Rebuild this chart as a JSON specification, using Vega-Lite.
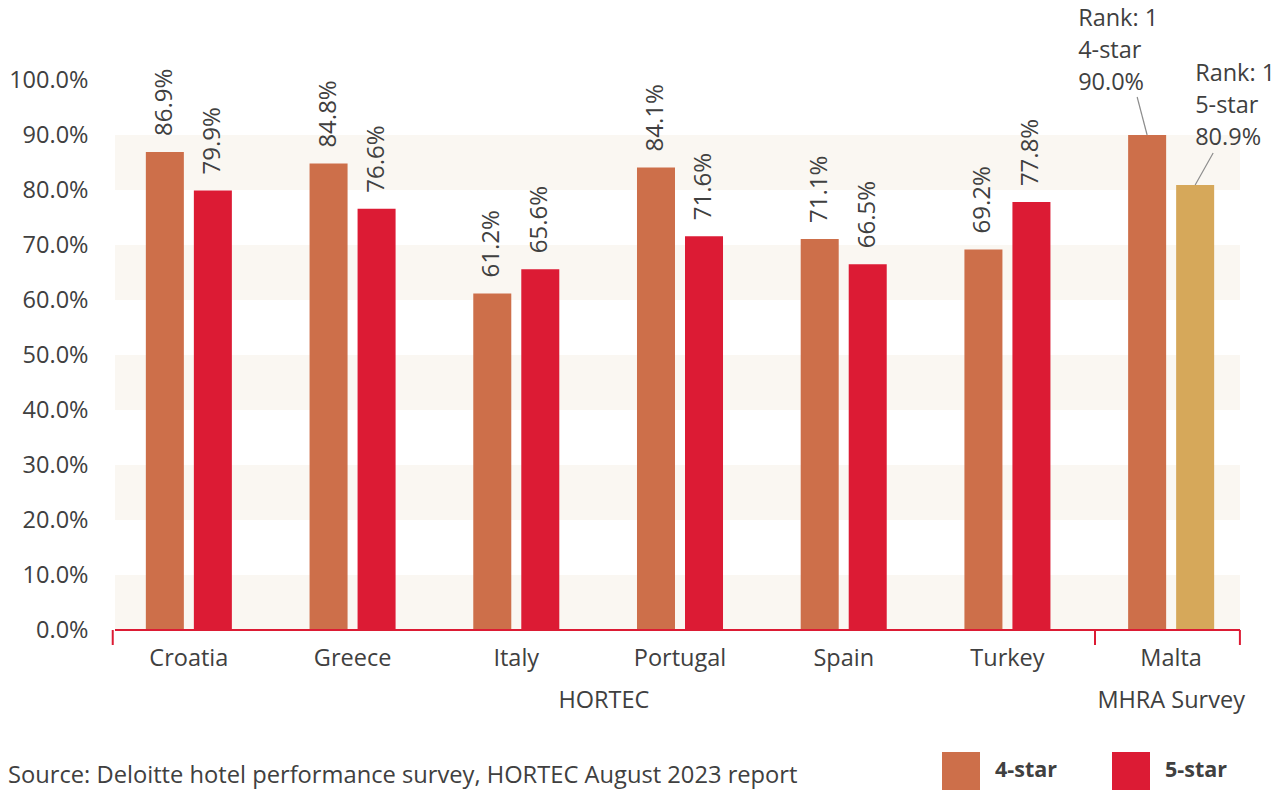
{
  "$schema": "https://vega.github.io/schema/vega-lite/v6.json",
  "width": 1125,
  "height": 550,
  "autosize": {"type": "none"},
  "padding": {"left": 115, "top": 80, "right": 42, "bottom": 161},
  "background": "white",
  "config": {
    "font": "Open Sans",
    "view": {"stroke": null}
  },
  "title": {
    "text": "Source: Deloitte hotel performance survey, HORTEC August 2023 report",
    "orient": "bottom",
    "anchor": "start",
    "frame": "group",
    "dx": -107,
    "offset": -26,
    "fontSize": 23.7,
    "fontWeight": "normal",
    "color": "#404040"
  },
  "datasets": {
    "bars": [
      {"country": "Croatia", "star": "4-star", "series": "4-star", "value": 0.869, "rank": null},
      {"country": "Croatia", "star": "5-star", "series": "5-star", "value": 0.799, "rank": null},
      {"country": "Greece", "star": "4-star", "series": "4-star", "value": 0.848, "rank": null},
      {"country": "Greece", "star": "5-star", "series": "5-star", "value": 0.766, "rank": null},
      {"country": "Italy", "star": "4-star", "series": "4-star", "value": 0.612, "rank": null},
      {"country": "Italy", "star": "5-star", "series": "5-star", "value": 0.656, "rank": null},
      {"country": "Portugal", "star": "4-star", "series": "4-star", "value": 0.841, "rank": null},
      {"country": "Portugal", "star": "5-star", "series": "5-star", "value": 0.716, "rank": null},
      {"country": "Spain", "star": "4-star", "series": "4-star", "value": 0.711, "rank": null},
      {"country": "Spain", "star": "5-star", "series": "5-star", "value": 0.665, "rank": null},
      {"country": "Turkey", "star": "4-star", "series": "4-star", "value": 0.692, "rank": null},
      {"country": "Turkey", "star": "5-star", "series": "5-star", "value": 0.778, "rank": null},
      {"country": "Malta", "star": "4-star", "series": "4-star", "value": 0.9, "rank": 1},
      {"country": "Malta", "star": "5-star", "series": "5-star MHRA", "value": 0.809, "rank": 1}
    ],
    "bands": [
      {"from": 0.0, "to": 0.1},
      {"from": 0.2, "to": 0.3},
      {"from": 0.4, "to": 0.5},
      {"from": 0.6, "to": 0.7},
      {"from": 0.8, "to": 0.9}
    ],
    "groups": [
      {"group": "HORTEC", "first": "Croatia", "last": "Turkey", "anchor": "Portugal"},
      {"group": "MHRA Survey", "first": "Malta", "last": "Malta", "anchor": "Malta"}
    ]
  },
  "layer": [
    {
      "data": {"name": "bands"},
      "mark": {"type": "rect", "color": "#faf7f2"},
      "encoding": {
        "y": {"field": "from", "type": "quantitative", "title": null, "scale": {"domain": [0, 1], "nice": false}},
        "y2": {"field": "to"}
      }
    },
    {
      "data": {"name": "bars"},
      "mark": {"type": "bar"},
      "encoding": {
        "x": {
          "field": "country", "type": "nominal", "sort": null, "title": null,
          "scale": {"domain": ["Croatia", "Greece", "Italy", "Portugal", "Spain", "Turkey", "Malta"], "range": [-8, 1138], "paddingInner": 0, "paddingOuter": 0},
          "axis": {"title": null, "domain": false, "ticks": false, "tickSize": 0, "grid": false, "labelPadding": 16, "labelFontSize": 23.5, "labelColor": "#404040", "labelAngle": 0}
        },
        "xOffset": {
          "field": "star", "type": "nominal",
          "scale": {"domain": ["4-star", "5-star"], "paddingInner": 0.2083, "paddingOuter": 0.809}
        },
        "y": {
          "field": "value", "type": "quantitative", "title": null,
          "scale": {"domain": [0, 1], "nice": false},
          "axis": {"title": null, "domain": false, "ticks": false, "tickSize": 0, "grid": false, "values": [0, 0.1, 0.2, 0.3, 0.4, 0.5, 0.6, 0.7, 0.8, 0.9, 1.0], "format": ".1%", "labelPadding": 27, "labelFontSize": 23.5, "labelColor": "#404040"}
        },
        "color": {
          "field": "series", "type": "nominal",
          "scale": {"domain": ["4-star", "5-star", "5-star MHRA"], "range": ["#cd6f4a", "#dc1b34", "#d6a85a"]},
          "legend": {
            "values": ["4-star", "5-star"],
            "title": null,
            "orient": "none",
            "legendX": 827,
            "legendY": 672,
            "direction": "horizontal",
            "symbolType": "square",
            "symbolSize": 1444,
            "symbolStrokeWidth": 0,
            "symbolOpacity": 1,
            "labelFontSize": 21.5,
            "labelFontWeight": "bold",
            "labelColor": "#404040",
            "labelOffset": 15,
            "columnPadding": 55,
            "padding": 0
          }
        }
      }
    },
    {
      "data": {"name": "bands"},
      "mark": {"type": "rule", "color": "#dc1b34", "strokeWidth": 2},
      "encoding": {
        "y": {"datum": 0, "type": "quantitative", "title": null}
      }
    },
    {
      "data": {"name": "groups"},
      "mark": {"type": "rule", "color": "#dc1b34", "strokeWidth": 2, "y2Offset": 15},
      "encoding": {
        "x": {"field": "first", "type": "nominal", "title": null, "bandPosition": 0.035},
        "y": {"datum": 0, "type": "quantitative", "title": null},
        "y2": {"datum": 0}
      }
    },
    {
      "data": {"name": "groups"},
      "transform": [{"filter": "datum.last === 'Malta'"}],
      "mark": {"type": "rule", "color": "#dc1b34", "strokeWidth": 2, "y2Offset": 15},
      "encoding": {
        "x": {"field": "last", "type": "nominal", "title": null, "bandPosition": 0.92},
        "y": {"datum": 0, "type": "quantitative", "title": null},
        "y2": {"datum": 0}
      }
    },
    {
      "data": {"name": "groups"},
      "transform": [{"filter": "datum.group === 'HORTEC'"}],
      "mark": {"type": "text", "fontSize": 23.5, "color": "#404040", "align": "center", "baseline": "alphabetic", "dy": 78},
      "encoding": {
        "x": {"field": "anchor", "type": "nominal", "title": null, "bandPosition": 0.035},
        "y": {"datum": 0, "type": "quantitative", "title": null},
        "text": {"field": "group"}
      }
    },
    {
      "data": {"name": "groups"},
      "transform": [{"filter": "datum.group !== 'HORTEC'"}],
      "mark": {"type": "text", "fontSize": 23.5, "color": "#404040", "align": "center", "baseline": "alphabetic", "dy": 78},
      "encoding": {
        "x": {"field": "anchor", "type": "nominal", "title": null, "bandPosition": 0.5},
        "y": {"datum": 0, "type": "quantitative", "title": null},
        "text": {"field": "group"}
      }
    },
    {
      "data": {"name": "bars"},
      "transform": [{"filter": "datum.country !== 'Malta'"}],
      "mark": {"type": "text", "angle": 270, "align": "left", "baseline": "middle", "dx": 16, "fontSize": 24, "color": "#404040"},
      "encoding": {
        "x": {"field": "country", "type": "nominal", "title": null},
        "xOffset": {"field": "star", "type": "nominal"},
        "y": {"field": "value", "type": "quantitative", "title": null},
        "text": {"field": "value", "type": "quantitative", "format": ".1%"}
      }
    },
    {
      "data": {"name": "bars"},
      "transform": [
        {"filter": "datum.country === 'Malta' && datum.star === '4-star'"},
        {"calculate": "['Rank: ' + datum.rank, datum.star, format(datum.value, '.1%')]", "as": "note"}
      ],
      "mark": {"type": "text", "align": "left", "baseline": "bottom", "dx": -69, "dy": -104, "lineHeight": 32, "fontSize": 23.5, "color": "#404040"},
      "encoding": {
        "x": {"field": "country", "type": "nominal", "title": null},
        "xOffset": {"field": "star", "type": "nominal"},
        "y": {"field": "value", "type": "quantitative", "title": null},
        "text": {"field": "note"}
      }
    },
    {
      "data": {"name": "bars"},
      "transform": [
        {"filter": "datum.country === 'Malta' && datum.star === '5-star'"},
        {"calculate": "['Rank: ' + datum.rank, datum.star, format(datum.value, '.1%')]", "as": "note"}
      ],
      "mark": {"type": "text", "align": "left", "baseline": "bottom", "dx": 0, "dy": -99, "lineHeight": 32, "fontSize": 23.5, "color": "#404040"},
      "encoding": {
        "x": {"field": "country", "type": "nominal", "title": null},
        "xOffset": {"field": "star", "type": "nominal"},
        "y": {"field": "value", "type": "quantitative", "title": null},
        "text": {"field": "note"}
      }
    },
    {
      "data": {"name": "bars"},
      "transform": [{"filter": "datum.country === 'Malta' && datum.star === '4-star'"}],
      "mark": {"type": "rule", "color": "#8c8c8c", "strokeWidth": 1.2, "y2Offset": -38, "x2Offset": -34},
      "encoding": {
        "x": {"field": "country", "type": "nominal", "title": null},
        "xOffset": {"field": "star", "type": "nominal"},
        "x2": {"field": "country"},
        "y": {"field": "value", "type": "quantitative", "title": null},
        "y2": {"field": "value"}
      }
    },
    {
      "data": {"name": "bars"},
      "transform": [{"filter": "datum.country === 'Malta' && datum.star === '5-star'"}],
      "mark": {"type": "rule", "color": "#8c8c8c", "strokeWidth": 1.2, "y2Offset": -32, "x2Offset": 42},
      "encoding": {
        "x": {"field": "country", "type": "nominal", "title": null},
        "xOffset": {"field": "star", "type": "nominal"},
        "x2": {"field": "country"},
        "y": {"field": "value", "type": "quantitative", "title": null},
        "y2": {"field": "value"}
      }
    }
  ]
}
